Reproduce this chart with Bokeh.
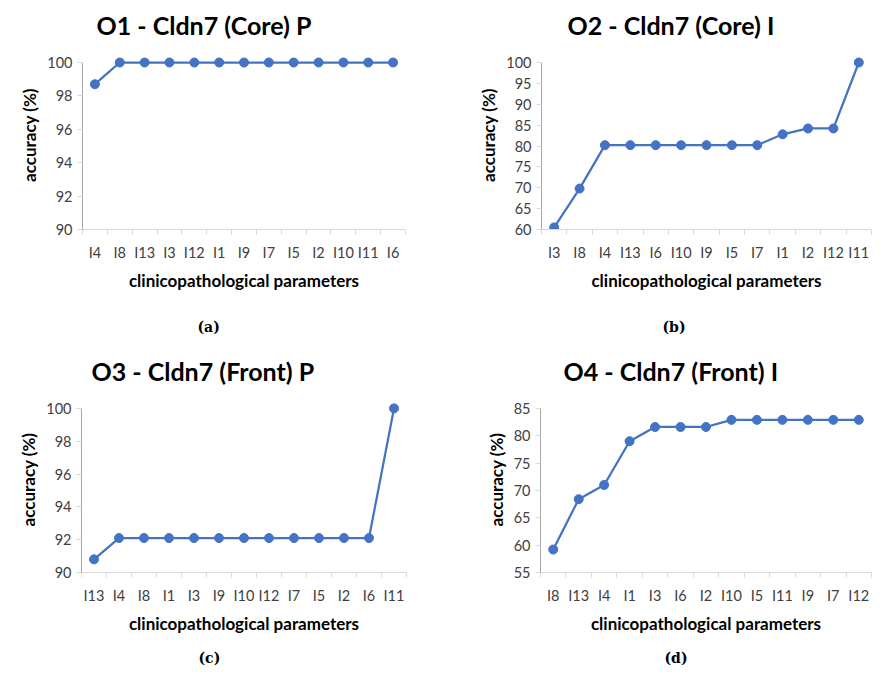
from bokeh.plotting import figure
from bokeh.models import Range1d, LinearAxis, FixedTicker, Title, ColumnDataSource
from bokeh.layouts import column, row
from bokeh.embed import file_html
from bokeh.resources import INLINE

# ---- data ----
titles = ["O1 - Cldn7 (Core) P", "O2 - Cldn7 (Core) I", "O3 - Cldn7 (Front) P", "O4 - Cldn7 (Front) I"]
captions = ["(a)", "(b)", "(c)", "(d)"]

cats_a = ["I4", "I8", "I13", "I3", "I12", "I1", "I9", "I7", "I5", "I2", "I10", "I11", "I6"]
acc_a = [98.7, 100, 100, 100, 100, 100, 100, 100, 100, 100, 100, 100, 100]

cats_b = ["I3", "I8", "I4", "I13", "I6", "I10", "I9", "I5", "I7", "I1", "I2", "I12", "I11"]
acc_b = [60.5, 69.8, 80.2, 80.2, 80.2, 80.2, 80.2, 80.2, 80.2, 82.8, 84.2, 84.2, 100]

cats_c = ["I13", "I4", "I8", "I1", "I3", "I9", "I10", "I12", "I7", "I5", "I2", "I6", "I11"]
acc_c = [90.8, 92.1, 92.1, 92.1, 92.1, 92.1, 92.1, 92.1, 92.1, 92.1, 92.1, 92.1, 100]

cats_d = ["I8", "I13", "I4", "I1", "I3", "I6", "I2", "I10", "I5", "I11", "I9", "I7", "I12"]
acc_d = [59.2, 68.4, 71.0, 79.0, 81.6, 81.6, 81.6, 82.9, 82.9, 82.9, 82.9, 82.9, 82.9]

y_ticks_a = [90, 92, 94, 96, 98, 100]
y_ticks_b = [60, 65, 70, 75, 80, 85, 90, 95, 100]
y_ticks_c = [90, 92, 94, 96, 98, 100]
y_ticks_d = [55, 60, 65, 70, 75, 80, 85]

x_title = "clinicopathological parameters"
y_title = "accuracy (%)"

BLUE = "#4472C4"
FONT = "Lato"
AXIS_GRAY = "#D9D9D9"
TEXT = "#404040"
PAD = 22  # px of frame headroom above the top gridline (keeps markers unclipped, places title)


def caption_title(text, dx, standoff):
    return Title(text=text, align="left", offset=dx, standoff=standoff,
                 text_font="DejaVu Serif", text_font_style="bold", text_font_size="14px",
                 text_color="black")


def panel(cats, vals, yticks, title, width, height, left, right, top, bottom, grid_h,
          title_dx, top_cap=None, bottom_cap=None):
    n = len(cats)
    y0, y1 = yticks[0], yticks[-1]
    y_end = y1 + PAD * (y1 - y0) / grid_h
    centers = [i + 0.5 for i in range(n)]
    src = ColumnDataSource(data=dict(x=centers, y=vals, cat=cats))

    p = figure(x_range=Range1d(0, n), y_range=Range1d(y0, y_end),
               width=width, height=height, output_backend="svg", toolbar_location=None,
               x_axis_type=None, y_axis_type=None,
               min_border_left=left, min_border_right=right,
               min_border_top=top, min_border_bottom=bottom)
    p.outline_line_color = None
    p.background_fill_color = "white"
    p.border_fill_color = "white"

    # y axis
    ya = LinearAxis(ticker=FixedTicker(ticks=yticks), bounds=(y0, y1))
    ya.axis_line_color = "#A6A6A6"
    ya.major_tick_out = 5
    ya.major_tick_in = 0
    ya.major_tick_line_color = AXIS_GRAY
    ya.minor_tick_line_color = None
    ya.major_label_text_font = FONT
    ya.major_label_text_font_size = "14.5px"
    ya.major_label_text_color = TEXT
    ya.major_label_standoff = 5
    ya.axis_label = y_title
    ya.axis_label_text_font = FONT
    ya.axis_label_text_font_style = "bold"
    ya.axis_label_text_font_size = "17px"
    ya.axis_label_text_color = "black"
    ya.axis_label_standoff = 4
    p.add_layout(ya, "left")

    # x axis: labels at slot centres, tick marks at slot boundaries (Excel style)
    xa = LinearAxis(ticker=FixedTicker(ticks=centers, minor_ticks=list(range(n + 1))))
    xa.major_label_overrides = {c: lab for c, lab in zip(centers, cats)}
    xa.axis_line_color = AXIS_GRAY
    xa.major_tick_line_color = None
    xa.major_tick_out = 0
    xa.major_tick_in = 0
    xa.minor_tick_line_color = AXIS_GRAY
    xa.minor_tick_out = 5
    xa.minor_tick_in = 0
    xa.major_label_text_font = FONT
    xa.major_label_text_font_size = "14.5px"
    xa.major_label_text_color = TEXT
    xa.major_label_standoff = 9
    xa.axis_label = x_title
    xa.axis_label_text_font = FONT
    xa.axis_label_text_font_style = "bold"
    xa.axis_label_text_font_size = "17px"
    xa.axis_label_text_color = "black"
    xa.axis_label_standoff = 6
    p.add_layout(xa, "below")

    p.ygrid.ticker = FixedTicker(ticks=yticks)
    p.ygrid.grid_line_color = "#D6D6D6"
    p.ygrid.grid_line_dash = "3 3"
    p.xgrid.visible = False

    p.line("x", "y", source=src, line_color=BLUE, line_width=2.25)
    p.scatter("x", "y", source=src, size=9, fill_color=BLUE, line_color=BLUE)

    t = Title(text=title, align="left", offset=title_dx, standoff=2,
              text_font=FONT, text_font_style="bold", text_font_size="25px", text_color="black")
    p.add_layout(t, "above")
    if top_cap is not None:
        p.add_layout(caption_title(*top_cap), "above")
    if bottom_cap is not None:
        p.add_layout(caption_title(*bottom_cap), "below")
    return p


# row 1: frame gridlines span 167 px; row 2: 165 px
pa = panel(cats_a, acc_a, y_ticks_a, titles[0], 438, 299, 82, 33, 40, 70, 167, 14)
pb = panel(cats_b, acc_b, y_ticks_b, titles[1], 436, 299, 103, 3, 40, 70, 167, 26)
pc = panel(cats_c, acc_c, y_ticks_c, titles[2], 438, 377, 81, 32, 86, 104, 165, 10,
           top_cap=(captions[0], 116, 35), bottom_cap=(captions[2], 117, 22))
pd = panel(cats_d, acc_d, y_ticks_d, titles[3], 436, 377, 102, 3, 86, 104, 165, 23,
           top_cap=(captions[1], 122, 35), bottom_cap=(captions[3], 124, 22))

layout = column(row(pa, pb), row(pc, pd))
open("out.html", "w").write(file_html(layout, INLINE))
